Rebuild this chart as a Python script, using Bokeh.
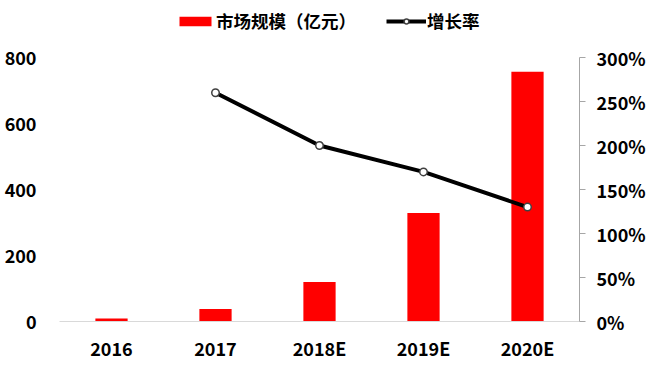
from bokeh.plotting import figure
from bokeh.layouts import column
from bokeh.models import (FactorRange, Range1d, LinearAxis, NumeralTickFormatter,
                          FixedTicker, Legend, LegendItem, ColumnDataSource)
from bokeh.embed import file_html
from bokeh.resources import INLINE

years = ["2016", "2017", "2018E", "2019E", "2020E"]
market = [9, 38, 120, 329, 757]
growth_years = ["2017", "2018E", "2019E", "2020E"]
growth = [2.60, 2.00, 1.70, 1.30]
bar_label = "市场规模（亿元）"
line_label = "增长率"

FONT = "Noto Sans CJK SC"
RED = "#FF0000"

W = 651
LEG_H = 38

xr = FactorRange(factors=years, range_padding=0)
yr = Range1d(0, 800)
pr = Range1d(0, 3)

bar_src = ColumnDataSource(dict(x=years, top=market))
src = ColumnDataSource(dict(x=growth_years, y=growth))

def add_series(fig, visible=True):
    b = fig.vbar(x="x", top="top", source=bar_src, width=0.31, color=RED, line_color=None)
    l = fig.line("x", "y", source=src, line_color="black", line_width=4, y_range_name="pct")
    s = fig.scatter("x", "y", source=src, size=7.5, fill_color="white", line_color="#404040",
                    line_width=1.5, y_range_name="pct")
    for r in (b, l, s):
        r.visible = visible
    return b, l, s

# ---------- main chart ----------
p = figure(width=W, height=364 - LEG_H, x_range=xr, y_range=yr,
           output_backend="svg", toolbar_location=None,
           min_border_left=59, min_border_right=72, min_border_top=19, min_border_bottom=43)
p.extra_y_ranges = {"pct": pr}
p.outline_line_color = None
p.xgrid.visible = False
p.ygrid.visible = False
add_series(p)

def style_labels(ax):
    ax.major_label_text_font = FONT
    ax.major_label_text_font_style = "bold"
    ax.major_label_text_font_size = "18px"
    ax.major_label_text_color = "black"

ya = p.yaxis[0]
ya.ticker = FixedTicker(ticks=[0, 200, 400, 600, 800])
ya.axis_line_color = None
ya.major_tick_line_color = None
ya.minor_tick_line_color = None
ya.major_label_standoff = 17
style_labels(ya)

xa = p.xaxis[0]
xa.axis_line_color = "#d9d9d9"
xa.major_tick_line_color = None
xa.minor_tick_line_color = None
xa.major_label_standoff = 7
style_labels(xa)

ra = LinearAxis(y_range_name="pct", ticker=FixedTicker(ticks=[0, 0.5, 1, 1.5, 2, 2.5, 3]),
                formatter=NumeralTickFormatter(format="0%"))
ra.axis_line_color = "#a6a6a6"
ra.major_tick_line_color = "#a6a6a6"
ra.major_tick_in = 0
ra.major_tick_out = 6
ra.minor_tick_line_color = None
ra.major_label_standoff = 11
style_labels(ra)
p.add_layout(ra, "right")

# ---------- legend strip (frames are aligned with the main chart) ----------
lf = figure(width=W, height=LEG_H, output_backend="svg", toolbar_location=None,
            x_range=xr, y_range=yr, x_axis_location=None, y_axis_location=None,
            min_border=0)
lf.extra_y_ranges = {"pct": pr}
lf.outline_line_color = None
lf.xgrid.visible = False
lf.ygrid.visible = False
lb, ll, lp = add_series(lf, visible=False)

legend = Legend(items=[LegendItem(label=bar_label, renderers=[lb]),
                       LegendItem(label=line_label, renderers=[ll, lp])],
                orientation="horizontal", location=(116, 5),
                glyph_width=40, glyph_height=12, label_standoff=1, spacing=30,
                label_text_font=FONT, label_text_font_style="bold",
                label_text_font_size="17.5px", label_text_color="black",
                border_line_color=None, background_fill_alpha=0,
                padding=2, margin=0)
lf.add_layout(legend, "center")

open("out.html", "w").write(file_html(column(lf, p), INLINE))
